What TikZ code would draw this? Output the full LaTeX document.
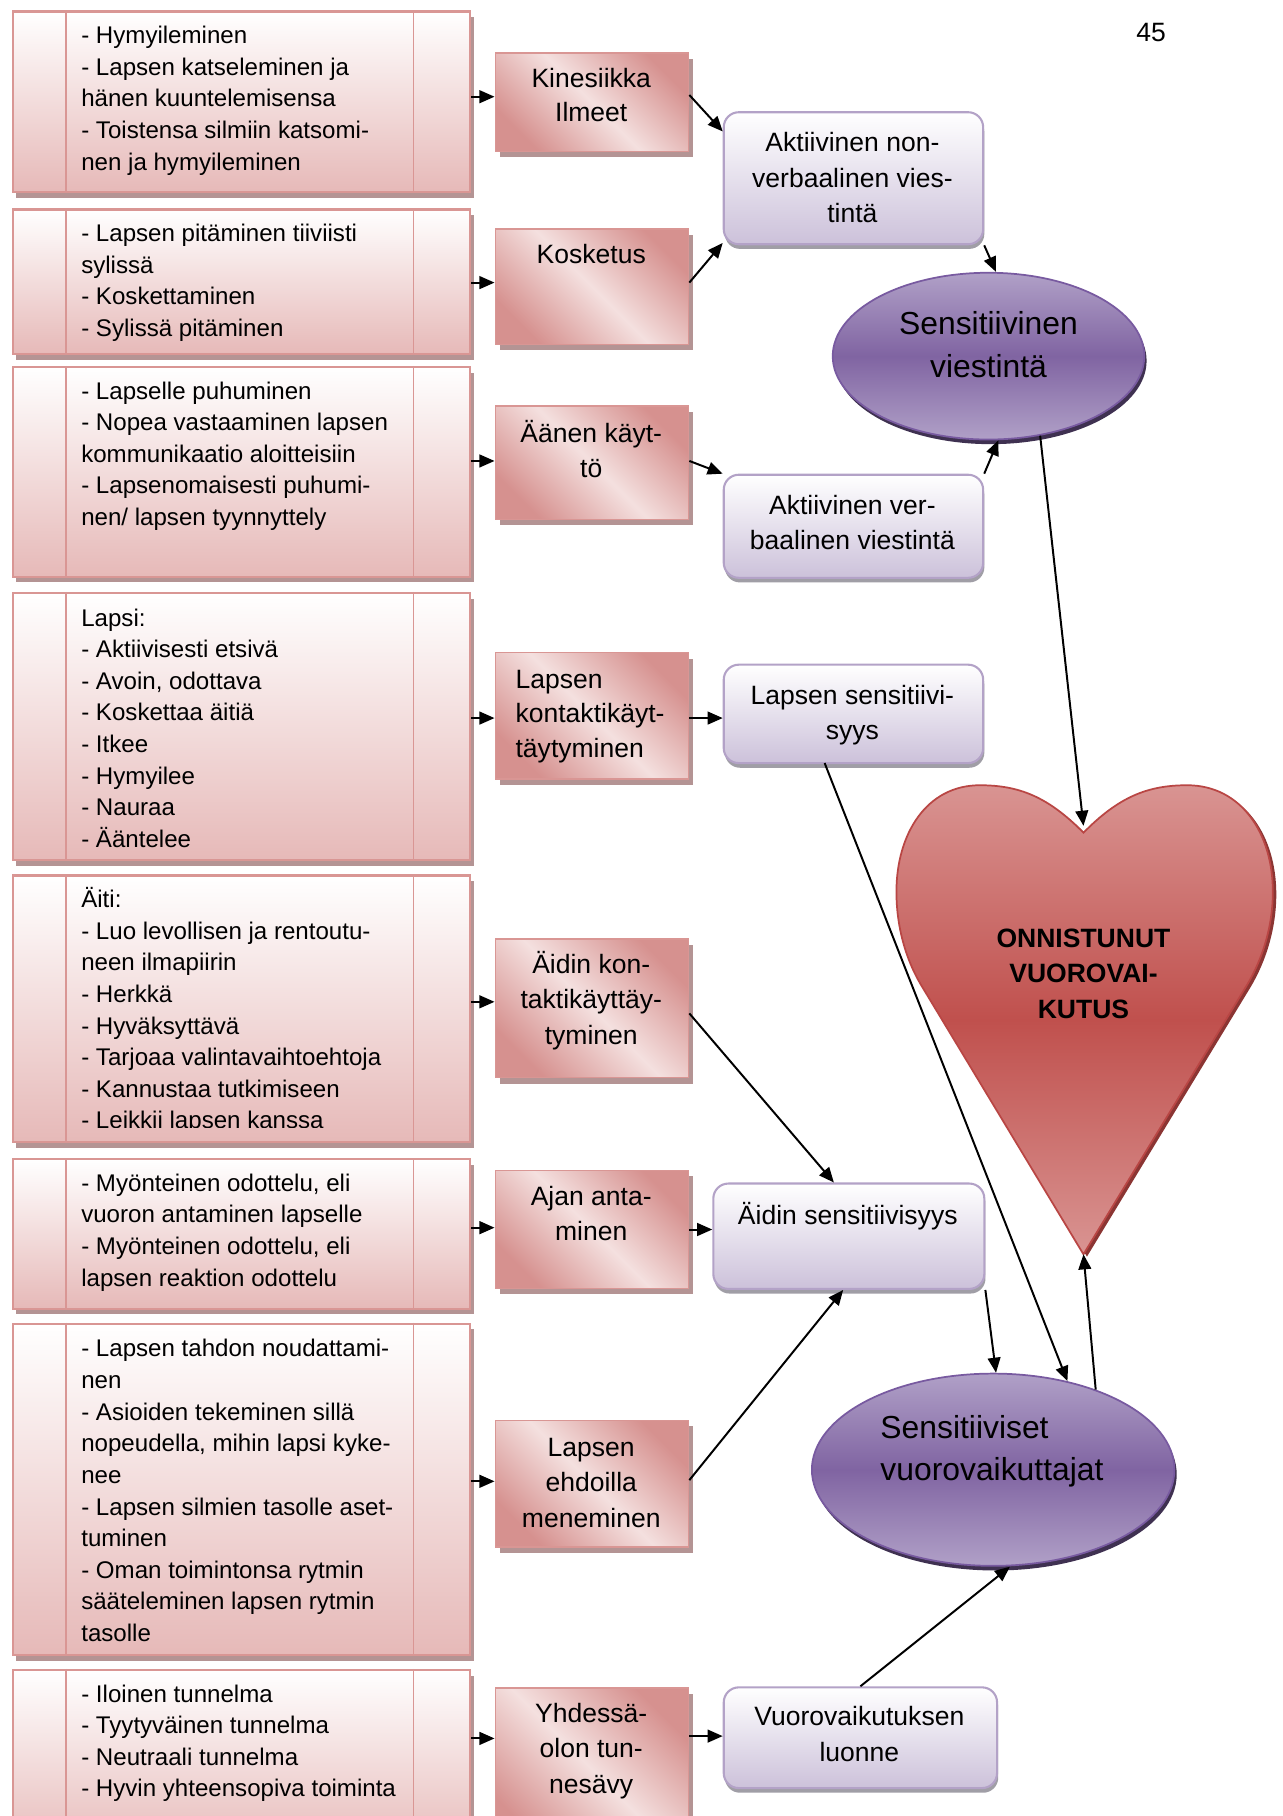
\documentclass[tikz,border=0pt]{standalone}
\usepackage{fontspec}
\setmainfont{Liberation Sans}
\usetikzlibrary{arrows.meta,shapes.geometric,shadows,calc}

\definecolor{pinkborder}{RGB}{217,150,148}
\definecolor{pinkbottom}{RGB}{230,185,184}
\definecolor{pinklight}{RGB}{244,224,223}
\definecolor{pinkdark}{RGB}{214,145,143}
\definecolor{pinkshadow}{RGB}{180,148,148}
\definecolor{lavborder}{RGB}{179,162,199}
\definecolor{lavbottom}{RGB}{204,193,218}
\definecolor{lavshadow}{RGB}{160,158,166}
\definecolor{purplemid}{RGB}{128,100,162}
\definecolor{purplelight}{RGB}{176,160,199}
\definecolor{purpleline}{RGB}{120,90,160}
\definecolor{purpleshadow}{RGB}{63,49,81}
\definecolor{heartmid}{RGB}{192,80,77}
\definecolor{heartlight}{RGB}{217,148,146}
\definecolor{heartborder}{RGB}{185,70,68}

\begin{document}
\begin{tikzpicture}[x=1pt,y=-1pt,
  leftbox/.style={draw=pinkborder, line width=1.8pt, top color=white, bottom color=pinkbottom,
    anchor=north west, inner sep=0pt, minimum width=395pt,
    drop shadow={shadow xshift=3pt, shadow yshift=-5pt, fill=pinkshadow, opacity=1}},
  innerline/.style={draw=pinkborder, line width=1.4pt},
  ltext/.style={anchor=north west, inner sep=0pt, align=left, font=\fontsize{20.8}{27.3}\selectfont},
  midbox/.style={draw=pinkborder, line width=1.2pt, left color=pinkdark, right color=pinkdark,
    middle color=pinklight, shading angle=-45, anchor=north west, inner sep=0pt, minimum width=167pt,
    drop shadow={shadow xshift=4pt, shadow yshift=-5pt, fill=pinkshadow, opacity=1}},
  mtext/.style={anchor=north, inner sep=0pt, align=center, font=\fontsize{22.9}{30}\selectfont},
  pbox/.style={draw=lavborder, line width=1.8pt, rounded corners=13pt, top color=white, bottom color=lavbottom,
    anchor=north west, inner sep=0pt,
    drop shadow={shadow xshift=1pt, shadow yshift=-4pt, fill=lavshadow, opacity=1}},
  ptext/.style={anchor=north, inner sep=0pt, align=center, font=\fontsize{22.9}{30.5}\selectfont},
  ell/.style={ellipse, draw=purpleline, line width=1.5pt, top color=purplelight, bottom color=purplelight,
    middle color=purplemid, inner sep=0pt,
    drop shadow={shadow xshift=2pt, shadow yshift=-4pt, fill=purpleshadow, opacity=1}},
  etext/.style={inner sep=0pt, align=center, font=\fontsize{27.5}{36.5}\selectfont},
  heart/.style={draw=heartborder, line width=1.5pt, top color=heartlight, bottom color=heartlight,
    middle color=heartmid,
    drop shadow={shadow xshift=3pt, shadow yshift=-2pt, fill=heartborder!75!black, opacity=1}},
  arr/.style={-{Triangle[length=13pt,width=11pt]}, line width=1.7pt, black}
]
\useasboundingbox (0,0) rectangle (1107,1568);
\fill[white] (0,0) rectangle (1107,1568);

% page number
\node[anchor=base, inner sep=0pt, font=\fontsize{22.9}{27}\selectfont] (pg) at (994,36) {45};

% ---------- left boxes ----------
\node[leftbox, minimum height=156pt] (L1) at (10,9) {};
\node[leftbox, minimum height=125pt] (L2) at (10,180) {};
\node[leftbox, minimum height=181pt] (L3) at (10,316) {};
\node[leftbox, minimum height=231pt] (L4) at (10,511) {};
\node[leftbox, minimum height=230pt] (L5) at (10,755) {};
\node[leftbox, minimum height=129pt] (L6) at (10,1000) {};
\node[leftbox, minimum height=286pt] (L7) at (10,1142) {};
\node[leftbox, minimum height=160pt] (L8) at (10,1441) {};
\foreach \b in {L1,L2,L3,L4,L5,L6,L7,L8}{
  \draw[innerline] ([xshift=47pt]\b.north west) -- ([xshift=47pt]\b.south west);
  \draw[innerline] ([xshift=347pt]\b.north west) -- ([xshift=347pt]\b.south west);
}

\node[ltext] (T1) at (70,18.3) {\strut- Hymyileminen\\- Lapsen katseleminen ja\\hänen kuuntelemisensa\\- Toistensa silmiin katsomi-\\nen ja hymyileminen};
\node[ltext] (T2) at (70,189.3) {\strut- Lapsen pitäminen tiiviisti\\sylissä\\- Koskettaminen\\- Sylissä pitäminen};
\node[ltext] (T3) at (70,325.3) {\strut- Lapselle puhuminen\\- Nopea vastaaminen lapsen\\kommunikaatio aloitteisiin\\- Lapsenomaisesti puhumi-\\nen/ lapsen tyynnyttely};
\begin{scope}
\clip (L4.north west) rectangle ($(L4.south east)+(0,-9)$);
\node[ltext] (T4) at (70,521.3) {\strut Lapsi:\\- Aktiivisesti etsivä\\- Avoin, odottava\\- Koskettaa äitiä\\- Itkee\\- Hymyilee\\- Nauraa\\- Ääntelee};
\end{scope}
\begin{scope}
\clip (L5.north west) rectangle ($(L5.south east)+(0,-13.5)$);
\node[ltext] (T5) at (70,764.3) {\strut Äiti:\\- Luo levollisen ja rentoutu-\\neen ilmapiirin\\- Herkkä\\- Hyväksyttävä\\- Tarjoaa valintavaihtoehtoja\\- Kannustaa tutkimiseen\\- Leikkii lapsen kanssa};
\end{scope}
\node[ltext] (T6) at (70,1009.3) {\strut- Myönteinen odottelu, eli\\vuoron antaminen lapselle\\- Myönteinen odottelu, eli\\lapsen reaktion odottelu};
\node[ltext] (T7) at (70,1152.3) {\strut- Lapsen tahdon noudattami-\\nen\\- Asioiden tekeminen sillä\\nopeudella, mihin lapsi kyke-\\nee\\- Lapsen silmien tasolle aset-\\tuminen\\- Oman toimintonsa rytmin\\sääteleminen lapsen rytmin\\tasolle};
\node[ltext] (T8) at (70,1450.3) {\strut- Iloinen tunnelma\\- Tyytyväinen tunnelma\\- Neutraali tunnelma\\- Hyvin yhteensopiva toiminta};

% ---------- middle boxes ----------
\node[midbox, minimum height=85pt] (Ma) at (427,45) {};
\node[midbox, minimum height=100pt] (Mb) at (427,197) {};
\node[midbox, minimum height=98pt] (Mc) at (427,350) {};
\node[midbox, minimum height=109pt] (Md) at (427,563) {};
\node[midbox, minimum height=120pt] (Me) at (427,810) {};
\node[midbox, minimum height=102pt] (Mf) at (427,1010) {};
\node[midbox, minimum height=109pt] (Mg) at (427,1226) {};
\node[midbox, minimum height=140pt] (Mh) at (427,1457) {};

\node[mtext] (Ta) at (510.5,54) {\strut Kinesiikka\\Ilmeet};
\node[mtext] (Tb) at (510.5,206) {\strut Kosketus};
\node[mtext] (Tc) at (510.5,361) {\strut Äänen käyt-\\tö};
\node[mtext, anchor=north west, align=left] (Td) at (445,573) {\strut Lapsen\\kontaktikäyt-\\täytyminen};
\node[mtext, font=\fontsize{22.9}{30.5}\selectfont] (Te) at (510.5,819) {\strut Äidin kon-\\taktikäyttäy-\\tyminen};
\node[mtext] (Tf) at (510.5,1020) {\strut Ajan anta-\\minen};
\node[mtext, font=\fontsize{22.9}{30.5}\selectfont] (Tg) at (510.5,1236) {\strut Lapsen\\ehdoilla\\meneminen};
\node[mtext, font=\fontsize{22.9}{31}\selectfont] (Th) at (510.5,1465) {\strut Yhdessä-\\olon tun-\\nesävy};

% ---------- purple boxes ----------
\node[pbox, minimum width=224pt, minimum height=114pt] (P1) at (624,96) {};
\node[pbox, minimum width=224pt, minimum height=89pt] (P2) at (624,409) {};
\node[pbox, minimum width=224pt, minimum height=85pt] (P3) at (624,573) {};
\node[pbox, minimum width=234pt, minimum height=91pt] (P4) at (615,1021) {};
\node[pbox, minimum width=236pt, minimum height=87pt] (P5) at (624,1456) {};

\node[ptext] (TP1) at (736,109.65) {\strut Aktiivinen non-\\verbaalinen vies-\\tintä};
\node[ptext] (TP2) at (736,422.65) {\strut Aktiivinen ver-\\baalinen viestintä};
\node[ptext] (TP3) at (736,586.65) {\strut Lapsen sensitiivi-\\syys};
\node[ptext] (TP4) at (732,1035.65) {\strut Äidin sensitiivisyys};
\node[ptext] (TP5) at (742,1468.65) {\strut Vuorovaikutuksen\\luonne};

% ---------- ellipses ----------
\node[ell, minimum width=269pt, minimum height=144pt] (E1) at (853.5,307.5) {};
\node[ell, minimum width=313pt, minimum height=166pt] (E2) at (857.5,1269) {};
\node[etext, anchor=north] (TE1) at (853.5,263.45) {\strut Sensitiivinen\\viestintä};
\node[etext, anchor=north west, align=left] (TE2) at (760,1216.45) {\strut Sensitiiviset\\vuorovaikuttajat};

% ---------- heart ----------
\coordinate (notch) at (935.5,719);
\coordinate (tip) at (935.5,1083);
\path[heart] (notch) .. controls (905,688) and (880,678) .. (846,678)
  .. controls (800,678) and (774,720) .. (774,770)
  .. controls (774,800) and (782,828) .. (795,850)
  -- (tip) -- (1077,850)
  .. controls (1090,828) and (1099,800) .. (1099,770)
  .. controls (1099,720) and (1072,678) .. (1025,678)
  .. controls (991,678) and (966,688) .. (notch) -- cycle;
\node[anchor=north, inner sep=0pt, align=center, font=\fontsize{22.9}{30.7}\selectfont\bfseries] (HT) at (935.5,796) {\strut ONNISTUNUT\\VUOROVAI-\\KUTUS};

% ---------- connectors ----------
\coordinate (a1) at ($(Ma.north west)+(0,38.5)$);
\coordinate (a2) at ($(Mb.north west)+(0,47)$);
\coordinate (a3) at ($(Mc.north west)+(0,48)$);
\coordinate (a4) at ($(Md.north west)+(0,57)$);
\coordinate (a5) at ($(Me.north west)+(0,55)$);
\coordinate (a6) at ($(Mf.north west)+(0,50)$);
\coordinate (a7) at ($(Mg.north west)+(0,53)$);
\coordinate (a8) at ($(Mh.north west)+(0,44)$);
\coordinate (a9) at ($(Mh.north east)+(0,42)$);
\draw[arr] (L1.east |- a1) -- (a1);
\draw[arr] (L2.east |- a2) -- (a2);
\draw[arr] (L3.east |- a3) -- (a3);
\draw[arr] (L4.east |- a4) -- (a4);
\draw[arr] (L5.east |- a5) -- (a5);
\draw[arr] (L6.east |- a6) -- (a6);
\draw[arr] (L7.east |- a7) -- (a7);
\draw[arr] (L8.east |- a8) -- (a8);

\draw[arr] ($(Ma.north east)+(0,37)$) -- ($(P1.north west)+(0,17.5)$);
\draw[arr] ($(Mb.north east)+(0,47)$) -- ($(P1.south west)+(0,-2)$);
\draw[arr] ($(Mc.north east)+(0,48)$) -- (P2.north west);
\draw[arr] (a4 -| Md.east) -- (a4 -| P3.west);
\draw[arr] ($(Me.north east)+(0,65)$) -- ($(P4.north west)+(105,0)$);
\draw[arr] (Mf.east) -- (Mf.east -| P4.west);
\draw[arr] ($(Mg.north east)+(0,52)$) -- ($(P4.south west)+(113,0)$);
\draw[arr] (a9) -- (a9 -| P5.west);

\draw[arr] (P1.south east) -- ($(E1.north)+(6.5,0)$);
\draw[arr] (P2.north east) -- ($(E1.south)+(8.5,0)$);
\draw[arr] (E1.-57) -- ($(notch)+(0,-6)$);
\draw[arr] ($(P3.south west)+(88,-1)$) -- (E2.50);
\draw[arr] (P4.south east) -- ($(E2.north)+(2.5,0)$);
\draw[arr] (E2.38) -- (tip);
\draw[arr] (P5.north) -- ($(E2.south)+(14.5,0)$);
\end{tikzpicture}
\end{document}
